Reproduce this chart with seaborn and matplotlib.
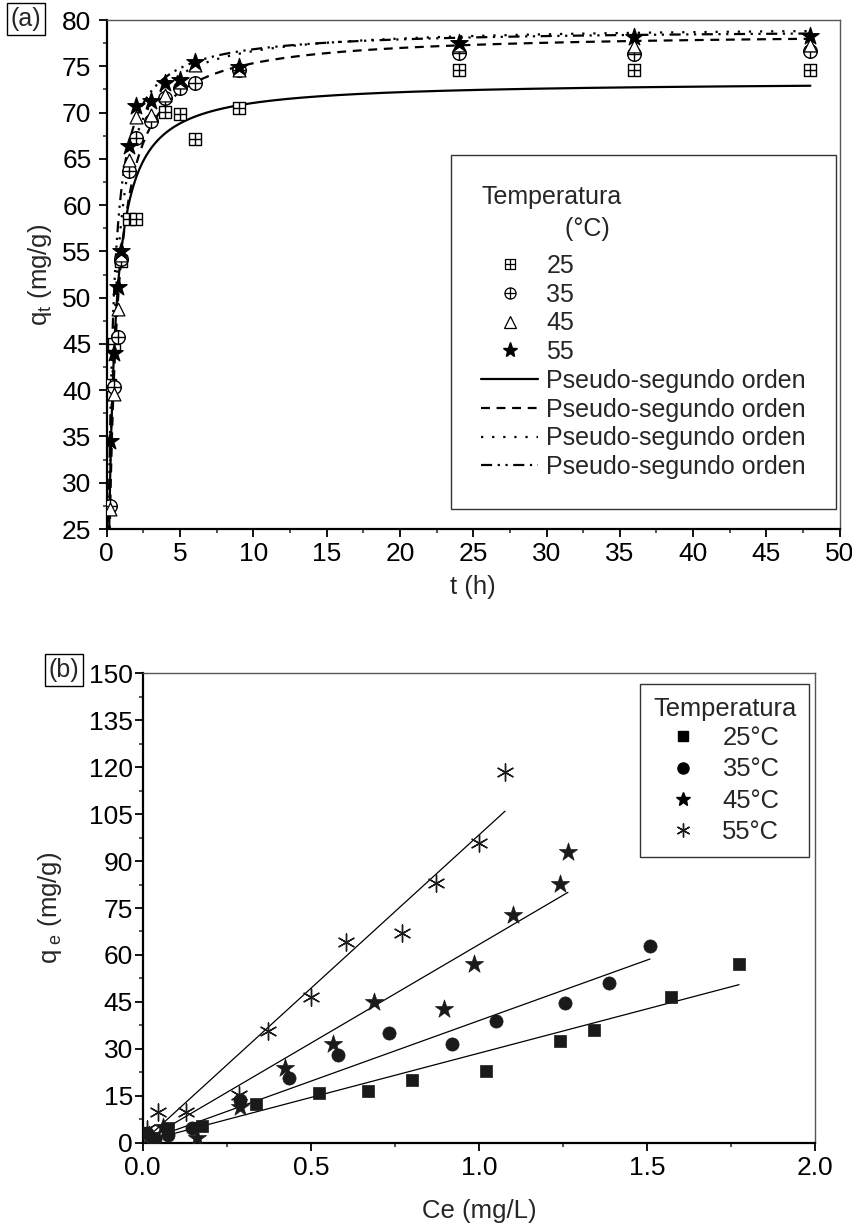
import numpy as np
import pandas as pd
import matplotlib
matplotlib.use("Agg")
import matplotlib.pyplot as plt
import seaborn as sns
from matplotlib.lines import Line2D
from matplotlib.path import Path
from matplotlib.ticker import MultipleLocator, FormatStrFormatter

sns.set_theme(style="ticks")
plt.rcParams["font.family"] = ["Liberation Sans", "DejaVu Sans"]
plt.rcParams["mathtext.fontset"] = "custom"
plt.rcParams["mathtext.rm"] = "Liberation Sans"
plt.rcParams["mathtext.it"] = "Liberation Sans"

# ---------------- (a) adsorption kinetics ----------------
t_25 = [0.25, 0.5, 1, 1.5, 2, 4, 5, 6, 9, 24, 36, 48]
q_25 = [40.6, 45.0, 54.0, 58.5, 58.5, 70.1, 69.8, 67.1, 70.5, 74.6, 74.6, 74.6]
t_35 = [0.25, 0.5, 0.75, 1, 1.5, 2, 3, 4, 5, 6, 9, 24, 36, 48]
q_35 = [27.5, 40.3, 45.8, 54.2, 63.7, 67.3, 69.1, 71.6, 72.6, 73.2, 74.6, 76.4, 76.3, 76.6]
t_45 = [0.25, 0.5, 0.75, 1, 1.5, 2, 3, 4, 5, 6, 9, 24, 36, 48]
q_45 = [27.2, 39.6, 48.8, 54.6, 64.9, 69.5, 69.7, 71.9, 73.3, 75.1, 74.6, 77.3, 77.2, 77.3]
t_55 = [0.25, 0.5, 0.75, 1, 1.5, 2, 3, 4, 5, 6, 9, 24, 36, 48]
q_55 = [34.5, 44.0, 51.2, 55.0, 66.4, 70.7, 71.3, 73.2, 73.5, 75.5, 74.9, 77.5, 78.2, 78.3]

temps_a = ["25", "35", "45", "55"]
# pseudo-second-order parameters: qe (mg/g), k2 (g/mg·h)
qe_fit = [73.4, 78.7, 79.4, 79.0]
k2_fit = [0.041, 0.0284, 0.035, 0.045]

# ---------------- (b) isotherms ----------------
ce_25 = [0.032, 0.076, 0.176, 0.337, 0.525, 0.671, 0.800, 1.020, 1.240, 1.343, 1.571, 1.774]
qe_25 = [1.1, 4.8, 5.3, 12.4, 15.8, 16.6, 20.0, 23.0, 32.6, 36.0, 46.7, 57.1]
ce_35 = [0.012, 0.037, 0.076, 0.146, 0.288, 0.436, 0.582, 0.733, 0.921, 1.050, 1.257, 1.387, 1.509]
qe_35 = [3.0, 1.1, 2.5, 4.6, 13.6, 20.6, 28.0, 35.0, 31.5, 38.8, 44.5, 50.9, 62.8]
ce_45 = [0.020, 0.061, 0.161, 0.290, 0.424, 0.567, 0.688, 0.897, 0.987, 1.103, 1.240, 1.265]
qe_45 = [2.5, 5.1, 1.4, 11.5, 23.8, 31.5, 45.1, 42.6, 57.1, 72.8, 82.6, 93.0]
ce_55 = [0.012, 0.046, 0.129, 0.285, 0.374, 0.500, 0.604, 0.771, 0.872, 1.001, 1.078]
qe_55 = [4.3, 9.7, 9.7, 15.2, 35.8, 46.7, 64.0, 66.9, 83.1, 95.7, 118.6]

temps_b = ["25°C", "35°C", "45°C", "55°C"]
slope_b = [28.3, 38.7, 63.0, 98.0]
icpt_b = [0.3, 0.3, 0.3, 0.3]

W, H = 853, 1225
fig = plt.figure(figsize=(W / 100, H / 100), dpi=100)

TICK_FS = 19
LABEL_FS = 18.5
LEG_FS = 18

# open square with a cross, and open circle with a cross
M, L, C = Path.MOVETO, Path.LINETO, Path.CLOSEPOLY
cross = Path([(0, -1), (0, 1), (-1, 0), (1, 0)], [M, L, M, L])
square_plus = Path.make_compound_path(
    Path([(-1, -1), (1, -1), (1, 1), (-1, 1), (-1, -1)], [M, L, L, L, C]), cross)
circle_plus = Path.make_compound_path(Path.unit_circle(), cross)


def px_axes(l, r, t, b):
    return fig.add_axes([l / W, 1 - b / H, (r - l) / W, (b - t) / H])


def style_axes(ax, pad):
    for s in ("left", "bottom"):
        ax.spines[s].set_color("black")
        ax.spines[s].set_linewidth(1.6)
    for s in ("top", "right"):
        ax.spines[s].set_color("#555555")
        ax.spines[s].set_linewidth(1.0)
    ax.tick_params(which="major", direction="out", length=6, width=1.3,
                   labelsize=TICK_FS, colors="black", top=False, right=False)
    ax.tick_params(axis="y", which="major", pad=pad)
    ax.tick_params(which="minor", direction="out", length=3, width=1.1,
                   top=False, right=False)
    ax.grid(False)
    ax.set_facecolor("white")


# ================= panel (a) =================
ax1 = px_axes(106.7, 839.7, 20, 529)
style_axes(ax1, pad=5)

t_model = np.linspace(0.005, 48, 3000)
line_styles = ["-", (0, (4, 3)), (0, (1, 4)), (0, (5, 2.5, 1, 2.5, 1, 2.5))]
for i, T in enumerate(temps_a):
    qe, k = qe_fit[i], k2_fit[i]
    fit = pd.DataFrame({"t": t_model, "q": qe * qe * k * t_model / (1 + qe * k * t_model)})
    sns.lineplot(data=fit, x="t", y="q", ax=ax1, color="black", lw=1.6,
                 linestyle=line_styles[i], legend=False)

kin = [(t_25, q_25, square_plus, 75, "white", 1.0),
       (t_35, q_35, circle_plus, 95, "white", 1.0),
       (t_45, q_45, "^", 85, "white", 0.9),
       (t_55, q_55, "*", 170, "black", 0.9)]
for tt, qq, mk, sz, fc, lw in kin:
    df = pd.DataFrame({"t": tt, "q": qq})
    sns.scatterplot(data=df, x="t", y="q", ax=ax1, marker=mk, s=sz,
                    facecolor=fc, edgecolor="black", linewidth=lw,
                    legend=False, zorder=5)

ax1.set_xlim(0, 50)
ax1.set_ylim(25, 80)
ax1.xaxis.set_major_locator(MultipleLocator(5))
ax1.xaxis.set_minor_locator(MultipleLocator(2.5))
ax1.yaxis.set_major_locator(MultipleLocator(5))
ax1.yaxis.set_minor_locator(MultipleLocator(2.5))
ax1.set_xlabel("t (h)", fontsize=LABEL_FS, labelpad=6)
ax1.set_ylabel(r"q$_\mathregular{t}$ (mg/g)", fontsize=LABEL_FS, labelpad=6)

handles_a = [
    Line2D([], [], ls="none", marker=square_plus, ms=7, mfc="white", mec="black", mew=0.9),
    Line2D([], [], ls="none", marker=circle_plus, ms=8, mfc="white", mec="black", mew=0.9),
    Line2D([], [], ls="none", marker="^", ms=9, mfc="white", mec="black", mew=0.9),
    Line2D([], [], ls="none", marker="*", ms=11, color="black"),
] + [Line2D([], [], color="black", lw=1.6, ls=line_styles[i]) for i in range(4)]
labels_a = temps_a + ["Pseudo-segundo orden"] * 4
leg1 = ax1.legend(handles_a, labels_a, loc="upper right",
                  bbox_to_anchor=(0.995, 0.7348), borderaxespad=0,
                  frameon=True, fancybox=False,
                  edgecolor="black", fontsize=LEG_FS, handlelength=2.25,
                  handletextpad=0.35, labelspacing=0.19, borderpad=1.2,
                  title="Temperatura\n            (°C)", title_fontsize=LEG_FS)
leg1.get_frame().set_linewidth(1.0)
leg1._legend_box.align = "left"
leg1._legend_box.sep = 9.5
leg1.get_title().set_multialignment("left")
leg1.get_title().set_linespacing(1.4)

fig.text(26 / W, 1 - 19 / H, "(a)", fontsize=18, ha="center", va="center",
         bbox=dict(boxstyle="square,pad=0.15", fc="white", ec="black", lw=1.0))

# ================= panel (b) =================
ax2 = px_axes(142.7, 815, 673.3, 1142.7)
style_axes(ax2, pad=1)

iso = [(ce_25, qe_25, "s", 70, 0.5),
       (ce_35, qe_35, "o", 90, 0.5),
       (ce_45, qe_45, "*", 190, 0.5),
       (ce_55, qe_55, (6, 2, 0), 150, 1.0)]
for i, (cc, qq, mk, sz, lw) in enumerate(iso):
    lo, hi = min(cc), max(cc)
    fit = pd.DataFrame({"Ce": [lo, hi],
                        "q": [icpt_b[i] + slope_b[i] * lo, icpt_b[i] + slope_b[i] * hi]})
    sns.lineplot(data=fit, x="Ce", y="q", ax=ax2, color="black", lw=0.9, legend=False)
    df = pd.DataFrame({"Ce": cc, "q": qq})
    sns.scatterplot(data=df, x="Ce", y="q", ax=ax2, marker=mk, s=sz,
                    color="#1a1a1a", edgecolor="#1a1a1a", linewidth=lw,
                    legend=False, zorder=5)

ax2.set_xlim(0, 2.0)
ax2.set_ylim(0, 150)
ax2.xaxis.set_major_locator(MultipleLocator(0.5))
ax2.xaxis.set_minor_locator(MultipleLocator(0.25))
ax2.yaxis.set_major_locator(MultipleLocator(15))
ax2.yaxis.set_minor_locator(MultipleLocator(7.5))
ax2.xaxis.set_major_formatter(FormatStrFormatter("%.1f"))
ax2.set_xlabel("Ce (mg/L)", fontsize=LABEL_FS, labelpad=14)
ax2.set_ylabel(r"q$_\mathregular{\ e}$ (mg/g)", fontsize=LABEL_FS, labelpad=18)

handles_b = [
    Line2D([], [], ls="none", marker="s", ms=7, color="black"),
    Line2D([], [], ls="none", marker="o", ms=8, color="black"),
    Line2D([], [], ls="none", marker="*", ms=10, color="black"),
    Line2D([], [], ls="none", marker=(6, 2, 0), ms=10, color="#1a1a1a", mew=1.0),
]
leg2 = ax2.legend(handles_b, temps_b, loc="upper right",
                  bbox_to_anchor=(0.991, 0.9772), borderaxespad=0,
                  frameon=True, fancybox=False,
                  edgecolor="black", fontsize=18.4, handlelength=1.0,
                  handletextpad=1.05, labelspacing=0.28, borderpad=0.5,
                  title="Temperatura", title_fontsize=18.4)
leg2.get_frame().set_linewidth(1.0)
leg2._legend_box.sep = 4

fig.text(64 / W, 1 - 670 / H, "(b)", fontsize=18, ha="center", va="center",
         bbox=dict(boxstyle="square,pad=0.15", fc="white", ec="black", lw=1.0))

fig.savefig("out.png", dpi=100, facecolor="white")
